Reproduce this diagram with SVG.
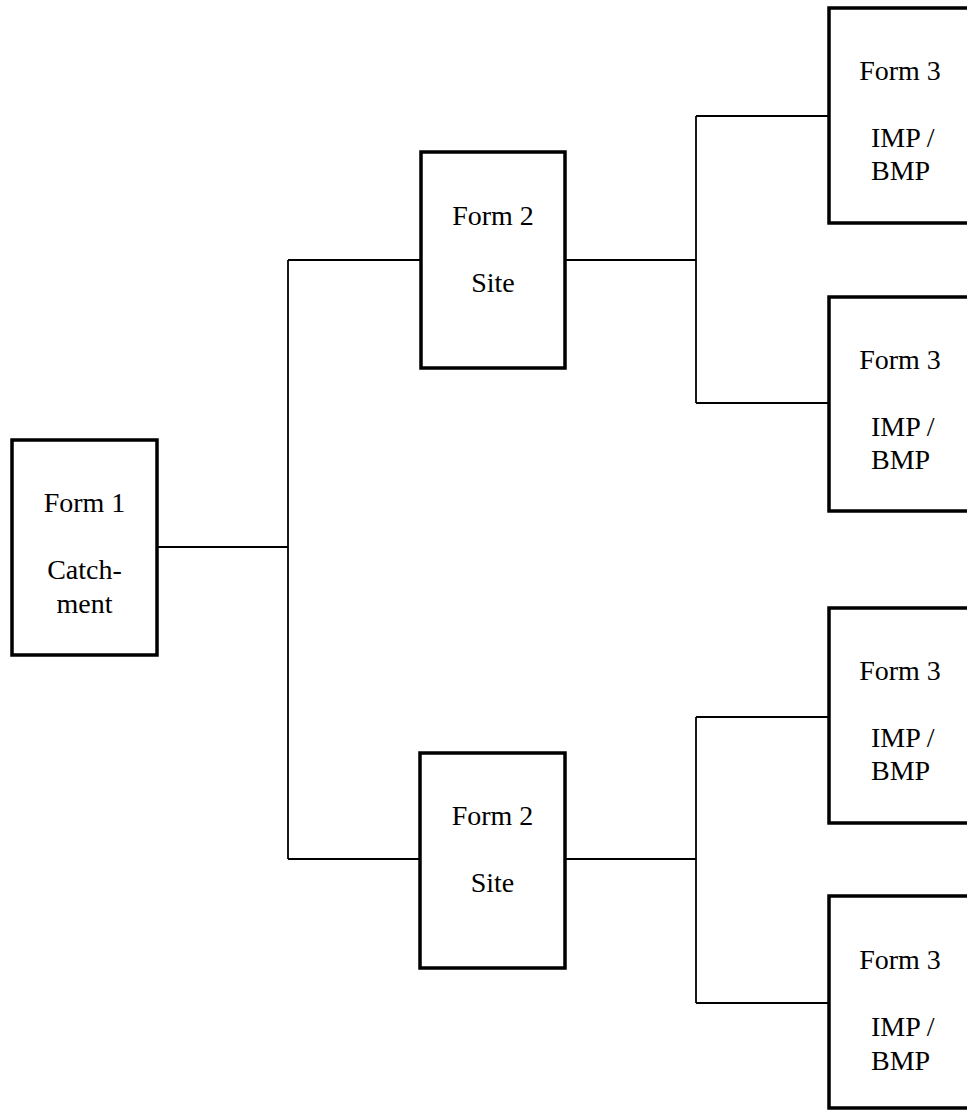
<svg xmlns="http://www.w3.org/2000/svg" width="967" height="1112" viewBox="0 0 967 1112">
<style>
.box{fill:#fff;stroke:#000;stroke-width:3.5}
.t{font-family:"Liberation Serif","Times New Roman",serif;font-size:28px;fill:#000}
.c{text-anchor:middle}
.conn{fill:none;stroke:#000;stroke-width:1.8}
</style>
<rect width="967" height="1112" fill="#fff"/>
<g id="connectors">
<path class="conn" d="M157 547H288M288 260V859M288 260H421M288 859H420"/>
<path class="conn" d="M565 260H696M696 116V403M696 116H829M696 403H829"/>
<path class="conn" d="M565 859H696M696 717V1003M696 717H829M696 1003H829"/>
</g>
<g id="form1">
<rect class="box" x="12" y="440" width="145" height="215"/>
<text class="t c" x="84.5" y="512">Form 1</text>
<text class="t c" x="84.5" y="579">Catch-</text>
<text class="t c" x="84.5" y="613">ment</text>
</g>
<g id="form2a">
<rect class="box" x="421" y="152" width="144" height="216"/>
<text class="t c" x="493" y="225">Form 2</text>
<text class="t c" x="493" y="292">Site</text>
</g>
<g id="form2b">
<rect class="box" x="420" y="753" width="145" height="215"/>
<text class="t c" x="492.5" y="825">Form 2</text>
<text class="t c" x="492.5" y="892">Site</text>
</g>
<g id="form3a">
<rect class="box" x="829" y="8" width="145" height="215"/>
<text class="t c" x="900" y="80">Form 3</text>
<text class="t" x="871" y="147">IMP /</text>
<text class="t" x="871" y="180">BMP</text>
</g>
<g id="form3b">
<rect class="box" x="829" y="297" width="145" height="214"/>
<text class="t c" x="900" y="369">Form 3</text>
<text class="t" x="871" y="436">IMP /</text>
<text class="t" x="871" y="469">BMP</text>
</g>
<g id="form3c">
<rect class="box" x="829" y="608" width="145" height="215"/>
<text class="t c" x="900" y="680">Form 3</text>
<text class="t" x="871" y="747">IMP /</text>
<text class="t" x="871" y="780">BMP</text>
</g>
<g id="form3d">
<rect class="box" x="829" y="896" width="145" height="212"/>
<text class="t c" x="900" y="969">Form 3</text>
<text class="t" x="871" y="1036">IMP /</text>
<text class="t" x="871" y="1070">BMP</text>
</g>
</svg>
